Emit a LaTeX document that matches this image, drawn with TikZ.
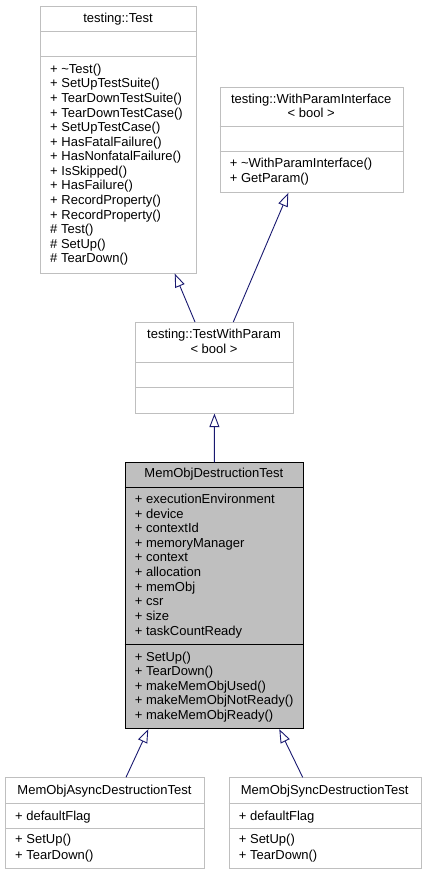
\documentclass[tikz,border=0pt]{standalone}
\usepackage{fontspec}
\setmainfont{Liberation Sans}
\usetikzlibrary{arrows.meta,calc}
\definecolor{boxgray}{HTML}{BFBFBF}
\definecolor{inhblue}{HTML}{191970}
\begin{document}
\begin{tikzpicture}[x=1pt,y=-1pt,
  every node/.style={font=\fontsize{13}{14.6}\selectfont},
  cls/.style={draw=boxgray,line width=0.9pt,fill=white,rectangle,inner sep=0pt,anchor=north west},
  focus/.style={draw=black,line width=0.9pt,fill=boxgray,rectangle,inner sep=0pt,anchor=north west},
  member/.style={anchor=base west,inner sep=0pt},
  ttl/.style={anchor=base,inner sep=0pt},
  sepg/.style={draw=boxgray,line width=0.9pt},
  sepk/.style={draw=black,line width=0.9pt},
  inh/.style={draw=inhblue,line width=0.9pt,-{Triangle[open,length=13.5pt,width=10pt,fill=white]}}
]
\useasboundingbox (0,0) rectangle (426,875);

% testing::Test
\node[cls,minimum width=156pt,minimum height=267pt] (test) at (40,5.7) {};
\draw[sepg] (40,31.7) -- (196,31.7);
\draw[sepg] (40,56.7) -- (196,56.7);
\node[ttl] (test-t) at (118,22.1) {testing::Test};
\foreach \t [count=\i] in {+ \textasciitilde Test(),+ SetUpTestSuite(),+ TearDownTestSuite(),+ TearDownTestCase(),+ SetUpTestCase(),+ HasFatalFailure(),+ HasNonfatalFailure(),+ IsSkipped(),+ HasFailure(),+ RecordProperty(),+ RecordProperty(),\# Test(),\# SetUp(),\# TearDown()}
  \node[member] (test-m\i) at (50,73.4+\i*14.56-14.56) {\t};

% testing::WithParamInterface
\node[cls,minimum width=183pt,minimum height=105.3pt] (wpi) at (219.7,86.7) {};
\draw[sepg] (219.7,126.7) -- (402.7,126.7);
\draw[sepg] (219.7,151.7) -- (402.7,151.7);
\node[ttl] (wpi-t1) at (311.2,103.1) {testing::WithParamInterface};
\node[ttl] (wpi-t2) at (311.2,117.7) {< bool >};
\node[member] (wpi-m1) at (229.7,167.7) {+ \textasciitilde WithParamInterface()};
\node[member] (wpi-m2) at (229.7,182.5) {+ GetParam()};

% testing::TestWithParam
\node[cls,minimum width=157.4pt,minimum height=90.7pt] (twp) at (135.3,322) {};
\draw[sepg] (135.3,362) -- (292.7,362);
\draw[sepg] (135.3,387.3) -- (292.7,387.3);
\node[ttl] (twp-t1) at (214,338.1) {testing::TestWithParam};
\node[ttl] (twp-t2) at (214,353.1) {< bool >};

% MemObjDestructionTest
\node[focus,minimum width=178.3pt,minimum height=266pt] (modt) at (124.7,462.3) {};
\draw[sepk] (124.7,487.3) -- (303,487.3);
\draw[sepk] (124.7,644.3) -- (303,644.3);
\node[ttl] (modt-t) at (213.85,477.7) {MemObjDestructionTest};
\foreach \t [count=\i] in {+ executionEnvironment,+ device,+ contextId,+ memoryManager,+ context,+ allocation,+ memObj,+ csr,+ size,+ taskCountReady}
  \node[member] (modt-a\i) at (134.7,503.4+\i*14.63-14.63) {\t};
\foreach \t [count=\i] in {+ SetUp(),+ TearDown(),+ makeMemObjUsed(),+ makeMemObjNotReady(),+ makeMemObjReady()}
  \node[member] (modt-m\i) at (134.7,661.1+\i*14.6-14.6) {\t};

% MemObjAsyncDestructionTest
\node[cls,minimum width=199pt,minimum height=91pt] (async) at (5,777.3) {};
\draw[sepg] (5,803.3) -- (204,803.3);
\draw[sepg] (5,828.3) -- (204,828.3);
\node[ttl] (async-t) at (104.5,794.4) {MemObjAsyncDestructionTest};
\node[member] (async-a1) at (15,820.1) {+ defaultFlag};
\node[member] (async-m1) at (15,843.8) {+ SetUp()};
\node[member] (async-m2) at (15,859.0) {+ TearDown()};

% MemObjSyncDestructionTest
\node[cls,minimum width=192pt,minimum height=91pt] (sync) at (228.7,777.3) {};
\draw[sepg] (228.7,803.3) -- (420.7,803.3);
\draw[sepg] (228.7,828.3) -- (420.7,828.3);
\node[ttl] (sync-t) at (324.7,794.4) {MemObjSyncDestructionTest};
\node[member] (sync-a1) at (238.7,820.1) {+ defaultFlag};
\node[member] (sync-m1) at (238.7,843.8) {+ SetUp()};
\node[member] (sync-m2) at (238.7,859.0) {+ TearDown()};

% inheritance
\draw[inh] ($(twp.north west)+(59.7,0)$) -- ($(test.south west)+(134.7,0)$);
\draw[inh] ($(twp.north west)+(98,0)$) -- ($(wpi.south west)+(68.6,0)$);
\draw[inh] (modt.north) -- (twp.south);
\draw[inh] ($(async.north west)+(121,0)$) -- ($(modt.south west)+(23.6,0)$);
\draw[inh] ($(sync.north west)+(74,0)$) -- ($(modt.south west)+(154.6,0)$);
\end{tikzpicture}
\end{document}
